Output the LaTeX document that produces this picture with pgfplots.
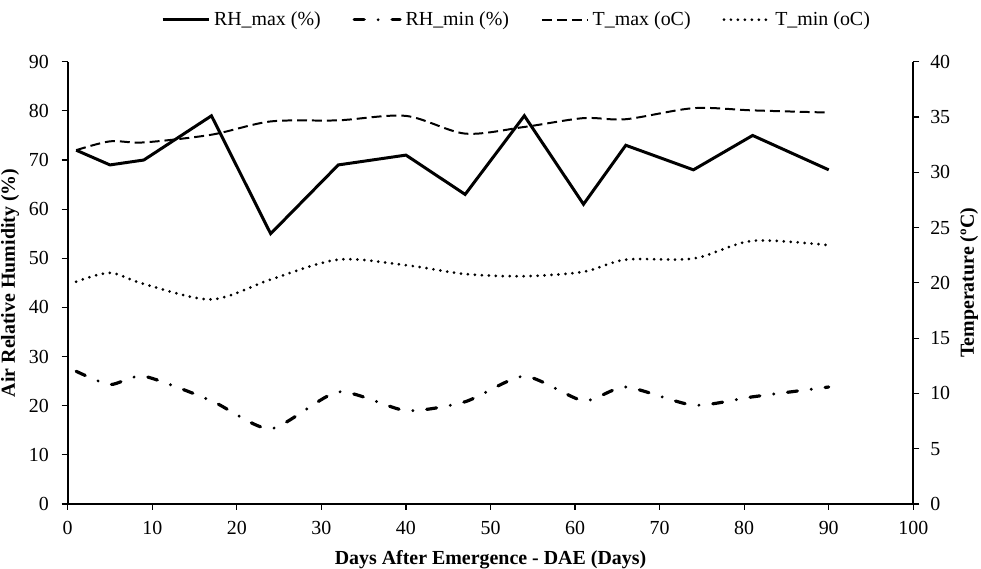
\documentclass[border=0pt]{standalone}
\usepackage{fontspec}
\setmainfont{Liberation Serif}
\usepackage{pgfplots}
\pgfplotsset{compat=1.18}

\pgfplotsset{
  rhmax/.style={black, line width=1.5pt, line join=miter},
  rhmin/.style={black, line width=1.6pt, line cap=round, dash pattern=on 5pt off 7pt on 0pt off 7pt},
  tmax/.style={black, line width=1pt, dash pattern=on 5pt off 2.5pt},
  tmin/.style={black, line width=1.5pt, line cap=round, dash pattern=on 0pt off 3.5pt},
}

\begin{document}
\begin{tikzpicture}
% left axis: relative humidity
\begin{axis}[
    name=ax,
    scale only axis, width=424.5pt, height=222pt,
    xmin=0, xmax=100, ymin=0, ymax=90,
    xtick distance=10, ytick distance=10,
    axis x line*=bottom, axis y line*=left,
    axis line style={line width=1pt},
    tick style={black, line width=0.6pt},
    tick align=outside, major tick length=3pt,
    ticklabel style={font=\fontsize{10}{12}\selectfont},
    xticklabel style={yshift=-2pt},
    yticklabel style={xshift=-3pt},
    /pgf/number format/assume math mode=true,
    xlabel={\bfseries Days After Emergence - DAE (Days)},
    ylabel={\bfseries Air Relative Humidity (\%)},
    label style={font=\fontsize{10}{12}\selectfont},
    xlabel style={yshift=-1pt},
    ylabel style={yshift=-2pt},
]
% RH_max (%)
\addplot[rhmax] coordinates {
  (1,72) (5,69) (9,70) (17,79) (24,55) (32,69) (40,71) (47,63)
  (54,79) (61,61) (66,73) (74,68) (81,75) (90,68)
};
% RH_min (%)
\addplot[rhmin, smooth, tension=0.4] coordinates {
  (1,27) (5,24.3) (9,26) (17,21) (24,15.3) (32,22.8) (40,19) (47,20.8)
  (54,26) (61,21) (66,23.8) (74,20.1) (81,21.8) (90,23.8)
};
\end{axis}

% right axis: temperature
\begin{axis}[
    scale only axis, width=424.5pt, height=222pt,
    xmin=0, xmax=100, ymin=0, ymax=40,
    ytick distance=5,
    axis x line=none, axis y line*=right,
    axis line style={line width=1pt},
    tick style={black, line width=0.6pt},
    tick align=outside, major tick length=3pt,
    ticklabel style={font=\fontsize{10}{12}\selectfont},
    yticklabel style={xshift=2pt},
    /pgf/number format/assume math mode=true,
    ylabel={\bfseries Temperature (ºC)},
    label style={font=\fontsize{10}{12}\selectfont},
    ylabel style={at={(axis description cs:1.066,0.5)}, anchor=center, rotate=0},
    legend style={at={(0.532,1.095)}, anchor=center, draw=none,
      font=\fontsize{10}{12}\selectfont, legend columns=4,
      /tikz/every even column/.append style={column sep=14pt}},
    legend image code/.code={\draw[#1] (0pt,0pt) -- (23pt,0pt);},
    legend cell align=left,
]
\addlegendimage{rhmax}
\addlegendentry{RH\_max (\%)}
\addlegendimage{rhmin}
\addlegendentry{RH\_min (\%)}
% T_max (oC)
\addplot[tmax, smooth] coordinates {
  (1,32) (5,32.8) (9,32.7) (17,33.4) (24,34.6) (32,34.7) (40,35.1) (47,33.5)
  (54,34.1) (61,34.9) (66,34.8) (74,35.8) (81,35.6) (90,35.4)
};
\addlegendentry{T\_max (oC)}
% T_min (oC)
\addplot[tmin, smooth] coordinates {
  (1,20.1) (5,20.9) (9,19.9) (17,18.5) (24,20.3) (32,22.1) (40,21.6) (47,20.8)
  (54,20.6) (61,21) (66,22.1) (74,22.2) (81,23.8) (90,23.4)
};
\addlegendentry{T\_min (oC)}
\end{axis}

\pgfresetboundingbox
\path ([shift={(-34pt,-32.25pt)}]ax.south west) rectangle ([shift={(34pt,31pt)}]ax.north east);
\end{tikzpicture}
\end{document}
